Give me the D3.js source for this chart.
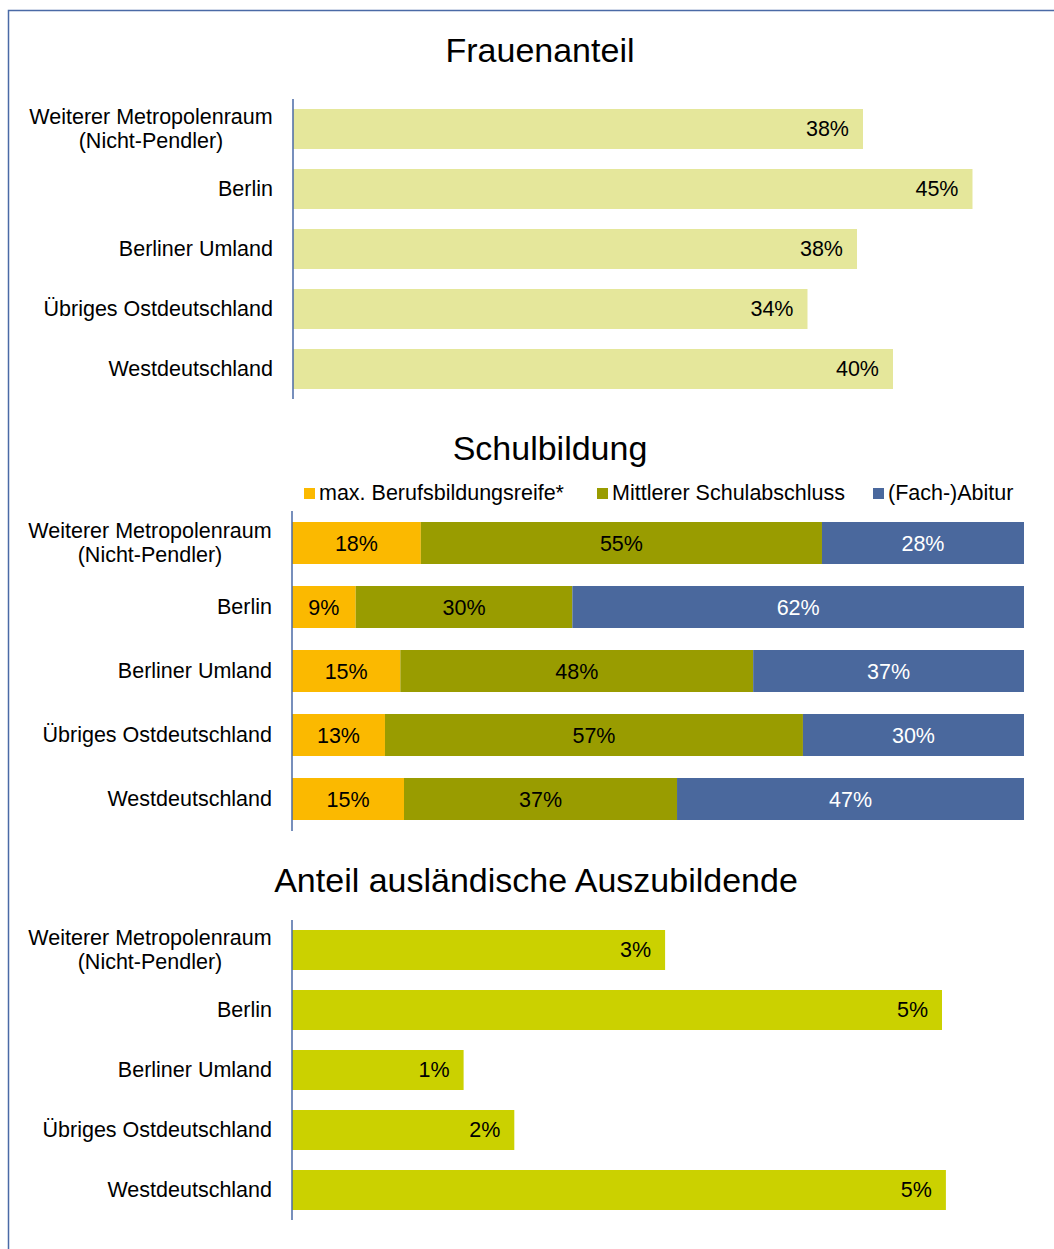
<!DOCTYPE html>
<html>
<head>
<meta charset="utf-8">
<script src="https://cdn.jsdelivr.net/npm/d3@7"></script>
<style>
  body { margin: 0; background: #fff; }
  svg { display: block; font-family: "Liberation Sans", Arial, sans-serif; }
</style>
</head>
<body>
<svg id="chart" width="1054" height="1249"></svg>
<script>
// categories (top to bottom)
const regions = [
    ['Weiterer Metropolenraum', '(Nicht-Pendler)'],
    ['Berlin'],
    ['Berliner Umland'],
    ['Übriges Ostdeutschland'],
    ['Westdeutschland']
];
const regionKeys = regions.map(r => r.join(' '));

// Frauenanteil
const womenShare = [0.380, 0.453, 0.376, 0.343, 0.400];

// Schulbildung
const schoolSeries = ['max. Berufsbildungsreife*', 'Mittlerer Schulabschluss', '(Fach-)Abitur'];
const schoolBasic = [0.176, 0.087, 0.148, 0.127, 0.153];
const schoolMiddle = [0.548, 0.296, 0.482, 0.571, 0.373];
const schoolAbitur = [0.276, 0.617, 0.370, 0.302, 0.474];

// Anteil auslaendische Auszubildende
const foreignShare = [0.0287, 0.0500, 0.0132, 0.0171, 0.0503];

const titles = ['Frauenanteil', 'Schulbildung', 'Anteil ausländische Auszubildende'];

const AXIS_COLOR = '#4a6aa6';
const schoolColors = ['#fbb900', '#999c00', '#4a689d'];
const pct = d3.format('.0%');
const FS = '21.5px';
const TITLE_FS = '34px';

const svg = d3.select('#chart');

// outer frame, only left/top edge visible
svg.append('rect')
    .attr('x', 8.5).attr('y', 10.5).attr('width', 1200).attr('height', 1400)
    .style('fill', 'none').style('stroke', AXIS_COLOR).style('stroke-width', 1.5);

function categoryLabels(g, y, xRight) {
    regions.forEach((lines, i) => {
        const cy = y(regionKeys[i]) + y.bandwidth() / 2;
        const lh = 24;
        const t = g.append('text')
            .attr('text-anchor', lines.length > 1 ? 'middle' : 'end')
            .style('font-size', FS).style('fill', '#000');
        // two-line labels are centred on each other, block right aligned
        const w = 244;
        lines.forEach((ln, j) => {
            t.append('tspan')
                .attr('x', lines.length > 1 ? xRight - w / 2 : xRight)
                .attr('y', cy + (j - (lines.length - 1) / 2) * lh + 7)
                .text(ln);
        });
    });
}

function axisLine(g, x0, y) {
    const [y0, y1] = y.range();
    g.append('line')
        .attr('x1', x0).attr('x2', x0).attr('y1', y0).attr('y2', y1)
        .style('stroke', AXIS_COLOR).style('stroke-width', 1.5);
}

function simpleBars(opts) {
    const { values, color, x, y, x0, title, titleX, titleY, labelRight } = opts;
    const g = svg.append('g');
    g.append('text').text(title)
        .attr('x', titleX).attr('y', titleY).attr('text-anchor', 'middle')
        .style('font-size', TITLE_FS);
    g.selectAll('rect.bar').data(values).join('rect')
        .attr('class', 'bar')
        .attr('x', x0)
        .attr('y', (d, i) => y(regionKeys[i]))
        .attr('width', d => x(d) - x0)
        .attr('height', y.bandwidth())
        .style('fill', color);
    g.selectAll('text.val').data(values).join('text')
        .attr('class', 'val')
        .attr('x', d => x(d) - 14)
        .attr('y', (d, i) => y(regionKeys[i]) + y.bandwidth() / 2 + 7)
        .attr('text-anchor', 'end')
        .style('font-size', FS)
        .text(d => pct(d));
    axisLine(g, x0, y);
    categoryLabels(g, y, labelRight);
}

// --- Frauenanteil ---
const y1 = d3.scaleBand().domain(regionKeys).range([99, 399])
    .paddingInner(1 / 3).paddingOuter(1 / 6);
const x1 = d3.scaleLinear().domain([0, 0.5]).range([293, 293 + 750]);
simpleBars({
    values: womenShare, color: '#e5e79b', x: x1, y: y1, x0: 293,
    title: titles[0], titleX: 540, titleY: 62, labelRight: 273
});

// --- Schulbildung ---
const y2 = d3.scaleBand().domain(regionKeys).range([511, 831])
    .paddingInner(22 / 64).paddingOuter(11 / 64);
const x2 = d3.scaleLinear().domain([0, 1]).range([292, 1024]);
const schoolRows = regionKeys.map((k, i) => ({
    key: k, basic: schoolBasic[i], middle: schoolMiddle[i], abitur: schoolAbitur[i]
}));
const stack = d3.stack().keys(['basic', 'middle', 'abitur'])(schoolRows);

const g2 = svg.append('g');
g2.append('text').text(titles[1])
    .attr('x', 550).attr('y', 460).attr('text-anchor', 'middle')
    .style('font-size', TITLE_FS);

// legend
const legendX = [304, 597, 873];
schoolSeries.forEach((name, i) => {
    g2.append('rect')
        .attr('x', legendX[i]).attr('y', 488).attr('width', 11).attr('height', 11)
        .style('fill', schoolColors[i]);
    g2.append('text')
        .attr('x', legendX[i] + 15).attr('y', 500)
        .style('font-size', FS)
        .text(name);
});

stack.forEach((layer, li) => {
    const lg = g2.append('g');
    lg.selectAll('rect').data(layer).join('rect')
        .attr('x', d => x2(d[0]))
        .attr('y', d => y2(d.data.key))
        .attr('width', d => x2(d[1]) - x2(d[0]))
        .attr('height', y2.bandwidth())
        .style('fill', schoolColors[li]);
    lg.selectAll('text').data(layer).join('text')
        .attr('x', d => (x2(d[0]) + x2(d[1])) / 2)
        .attr('y', d => y2(d.data.key) + y2.bandwidth() / 2 + 8)
        .attr('text-anchor', 'middle')
        .style('font-size', FS)
        .style('fill', li === 2 ? '#fff' : '#000')
        .text(d => pct(d[1] - d[0]));
});
axisLine(g2, 292, y2);
categoryLabels(g2, y2, 272);

// --- Anteil auslaendische Auszubildende ---
const y3 = d3.scaleBand().domain(regionKeys).range([920, 1220])
    .paddingInner(1 / 3).paddingOuter(1 / 6);
const x3 = d3.scaleLinear().domain([0, 0.06]).range([292, 292 + 780]);
simpleBars({
    values: foreignShare, color: '#cbd100', x: x3, y: y3, x0: 292,
    title: titles[2], titleX: 536, titleY: 892, labelRight: 272
});
</script>
</body>
</html>
